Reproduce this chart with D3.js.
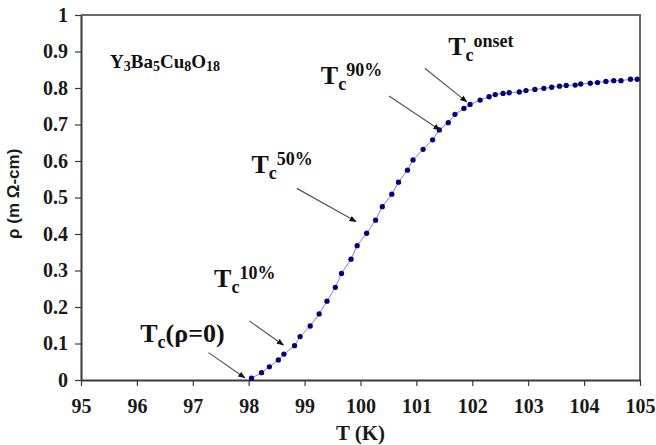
<!DOCTYPE html>
<html lang="en">
  <head>
    <meta charset="utf-8"/>
    <script src="https://d3js.org/d3.v7.min.js"></script>
    <style>
      body { margin: 0; background: #fff; }
    </style>
  </head>
  <body>
    <svg class="chart" width="656" height="445"></svg>
  </body>
  <script>
    // temperature (K) and resistivity (mOhm-cm)
    const temps = [98.05, 98.23, 98.37, 98.53, 98.63, 98.82, 98.92, 99.10, 99.26, 99.40,
      99.55, 99.66, 99.83, 99.94, 100.11, 100.27, 100.39, 100.56, 100.68, 100.84,
      100.94, 101.12, 101.29, 101.41, 101.57, 101.69, 101.85, 101.96, 102.14, 102.30,
      102.41, 102.55, 102.66, 102.84, 102.96, 103.12, 103.28, 103.42, 103.56, 103.68,
      103.84, 103.94, 104.11, 104.24, 104.39, 104.53, 104.66, 104.83, 104.95];
    const rho = [0.005, 0.020, 0.036, 0.055, 0.071, 0.094, 0.119, 0.148, 0.181, 0.216,
      0.254, 0.292, 0.331, 0.368, 0.402, 0.438, 0.475, 0.509, 0.542, 0.575,
      0.603, 0.632, 0.658, 0.685, 0.705, 0.728, 0.744, 0.755, 0.767, 0.776,
      0.782, 0.785, 0.787, 0.789, 0.793, 0.796, 0.799, 0.802, 0.805, 0.807,
      0.808, 0.811, 0.813, 0.815, 0.818, 0.820, 0.820, 0.824, 0.824];

    const xTicks = [95, 96, 97, 98, 99, 100, 101, 102, 103, 104, 105];
    const yTicks = [0, 0.1, 0.2, 0.3, 0.4, 0.5, 0.6, 0.7, 0.8, 0.9, 1];

    // annotation labels: superscript / trailing text after "Tc"
    const noteSup = ["onset", "90%", "50%", "10%", ""];
    const noteTail = ["", "", "", "", "(ρ=0)"];
    // label anchor and arrow start/end, in data units (T, rho)
    const noteAt = [[101.57, 0.89], [99.29, 0.811], [98.05, 0.567], [97.38, 0.256], [96.06, 0.105]];
    const arrowFrom = [[101.15, 0.854], [100.51, 0.778], [98.86, 0.525], [98.01, 0.162], [97.28, 0.075]];
    const arrowTo = [[101.90, 0.762], [101.42, 0.685], [99.92, 0.434], [98.62, 0.096], [97.93, 0.006]];

    const serif = "'Liberation Serif', 'Times New Roman', serif";
    const sans = "'Liberation Sans', Arial, sans-serif";

    const margin = {top: 15, right: 16, bottom: 65, left: 81};
    const width = 656, height = 445;

    const x = d3.scaleLinear().domain([95, 105]).range([margin.left, width - margin.right]);
    const y = d3.scaleLinear().domain([0, 1]).range([height - margin.bottom, margin.top]);

    const svg = d3.select(".chart");

    svg.append("defs").append("marker")
      .attr("id", "head")
      .attr("viewBox", "0 0 10 10")
      .attr("refX", 9).attr("refY", 5)
      .attr("markerWidth", 6).attr("markerHeight", 6)
      .attr("orient", "auto")
      .append("path")
        .attr("d", "M0,1 L10,5 L0,9 Z")
        .attr("fill", "#111");

    // frame top/right
    svg.append("path")
      .attr("d", "M" + x(95) + "," + y(1) + "H" + x(105) + "V" + y(0))
      .attr("fill", "none")
      .attr("stroke", "#6a6a6a")
      .attr("stroke-width", 2);

    svg.append("g")
      .attr("class", "axis")
      .attr("transform", "translate(0," + y(0) + ")")
      .call(d3.axisBottom(x).tickValues(xTicks).tickFormat(d3.format("d"))
        .tickSize(6).tickSizeOuter(0).tickPadding(13));

    svg.append("g")
      .attr("class", "axis")
      .attr("transform", "translate(" + x(95) + ",0)")
      .call(d3.axisLeft(y).tickValues(yTicks).tickFormat(function(d) { return String(d); })
        .tickSize(6).tickSizeOuter(0).tickPadding(7));

    svg.selectAll(".axis")
      .attr("font-family", serif)
      .attr("font-size", 20)
      .attr("font-weight", "bold");
    svg.selectAll(".axis text").attr("fill", "#1a1a1a");
    svg.selectAll(".axis .domain").attr("stroke", "#3a3a3a").attr("stroke-width", 2);
    svg.selectAll(".axis .tick line").attr("stroke", "#3a3a3a").attr("stroke-width", 1.2);

    // axis titles
    svg.append("text")
      .attr("x", x(100))
      .attr("y", 440)
      .attr("text-anchor", "middle")
      .attr("font-family", serif)
      .attr("font-size", 21)
      .attr("font-weight", "bold")
      .attr("fill", "#1a1a1a")
      .text("T (K)");

    svg.append("text")
      .attr("transform", "translate(19," + y(0.51) + ") rotate(-90)")
      .attr("text-anchor", "middle")
      .attr("font-family", sans)
      .attr("font-size", 17)
      .attr("font-weight", "bold")
      .attr("fill", "#1a1a1a")
      .text("ρ (m Ω-cm)");

    // the curve
    const points = temps.map(function(t, i) { return [t, rho[i]]; });

    svg.append("path")
      .datum(points)
      .attr("fill", "none")
      .attr("stroke", "#8080d8")
      .attr("stroke-width", 1)
      .attr("d", d3.line().x(function(d) { return x(d[0]); }).y(function(d) { return y(d[1]); }));

    svg.append("g").selectAll("path")
      .data(points)
      .enter().append("path")
        .attr("transform", function(d) { return "translate(" + x(d[0]) + "," + y(d[1]) + ")"; })
        .attr("d", d3.symbol().type(d3.symbolCircle).size(22))
        .attr("fill", "#000080");

    // compound label
    const comp = svg.append("text")
      .attr("x", x(95.52))
      .attr("y", y(0.855))
      .attr("font-family", serif)
      .attr("font-weight", "bold")
      .attr("fill", "#111")
      .attr("font-size", 19);
    [["Y", ""], ["3", "s"], ["Ba", ""], ["5", "s"], ["Cu", ""], ["8", "s"], ["O", ""], ["18", "s"]]
      .forEach(function(p, i, arr) {
        const prev = i > 0 ? arr[i - 1][1] : "";
        comp.append("tspan")
          .attr("font-size", p[1] ? 14 : 19)
          .attr("dy", p[1] ? 3 : (prev ? -3 : 0))
          .text(p[0]);
      });

    // Tc annotations
    noteAt.forEach(function(p, i) {
      const t = svg.append("text")
        .attr("x", x(p[0]))
        .attr("y", y(p[1]))
        .attr("font-family", serif)
        .attr("font-weight", "bold")
        .attr("fill", "#111")
        .attr("font-size", 26);
      t.append("tspan").text("T");
      t.append("tspan").attr("font-size", 18).attr("dy", 6).text("c");
      if (noteSup[i]) t.append("tspan").attr("font-size", 18).attr("dy", -14).text(noteSup[i]);
      if (noteTail[i]) t.append("tspan").attr("font-size", 26).attr("dy", -6).text(noteTail[i]);

      svg.append("line")
        .attr("x1", x(arrowFrom[i][0])).attr("y1", y(arrowFrom[i][1]))
        .attr("x2", x(arrowTo[i][0])).attr("y2", y(arrowTo[i][1]))
        .attr("stroke", "#555")
        .attr("stroke-width", 1.2)
        .attr("marker-end", "url(#head)");
    });
  </script>
</html>
